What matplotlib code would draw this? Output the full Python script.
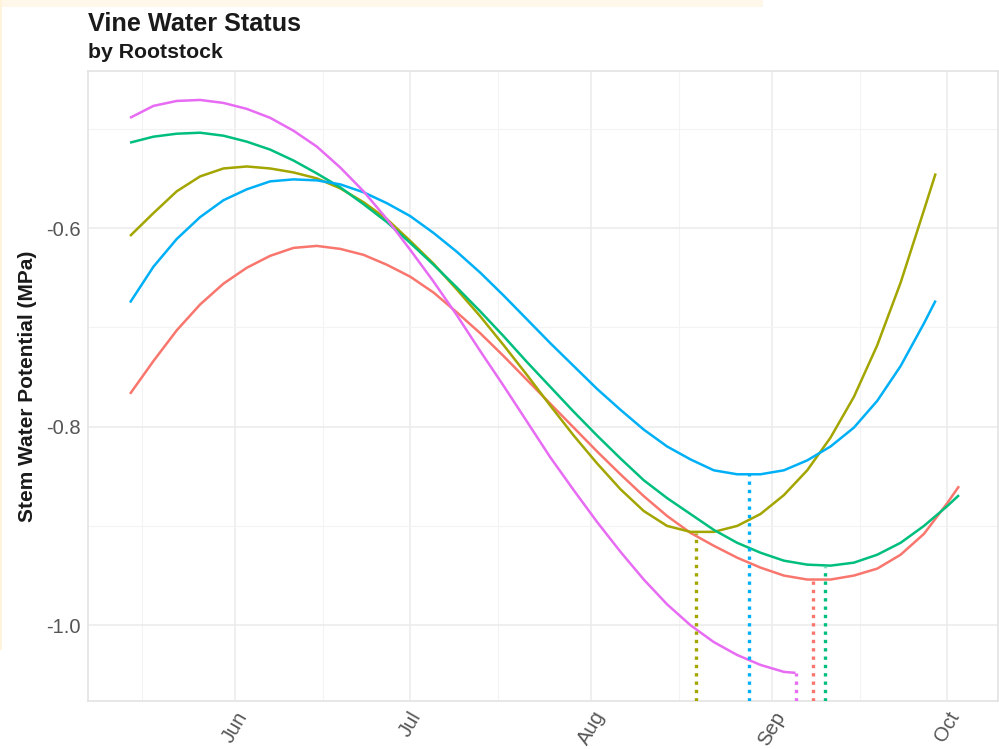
import matplotlib
matplotlib.use("Agg")
import matplotlib.pyplot as plt
import matplotlib.dates as mdates
import pandas as pd
from matplotlib.patches import Rectangle

plt.rcParams["font.family"] = ["Liberation Sans", "DejaVu Sans"]

# 4-day sample dates along the smoothed curves, plus each curve's last date
grid = pd.date_range("2019-05-14", periods=36, freq="4D")
dates_red = list(grid) + [pd.Timestamp("2019-10-03")]
dates_olive = list(grid[:35]) + [pd.Timestamp("2019-09-29")]
dates_green = list(grid) + [pd.Timestamp("2019-10-03")]
dates_blue = list(grid[:35]) + [pd.Timestamp("2019-09-29")]
dates_purple = list(grid[:29]) + [pd.Timestamp("2019-09-05")]

# smoothed stem water potential (MPa) per rootstock
swp_red = [-0.767, -0.734, -0.703, -0.677, -0.656, -0.640, -0.628, -0.620, -0.618, -0.621,
           -0.627, -0.637, -0.649, -0.665, -0.685, -0.706, -0.729, -0.753, -0.777, -0.801,
           -0.825, -0.848, -0.870, -0.890, -0.907, -0.920, -0.932, -0.942, -0.950, -0.954,
           -0.954, -0.950, -0.943, -0.929, -0.908, -0.877, -0.860]
swp_olive = [-0.608, -0.585, -0.563, -0.548, -0.540, -0.538, -0.540, -0.544, -0.550, -0.560,
             -0.574, -0.591, -0.613, -0.636, -0.662, -0.689, -0.718, -0.748, -0.779, -0.809,
             -0.837, -0.863, -0.885, -0.900, -0.906, -0.906, -0.900, -0.888, -0.869, -0.844,
             -0.811, -0.770, -0.718, -0.655, -0.582, -0.545]
swp_green = [-0.514, -0.508, -0.505, -0.504, -0.507, -0.513, -0.521, -0.532, -0.545, -0.559,
             -0.576, -0.594, -0.615, -0.637, -0.660, -0.684, -0.709, -0.735, -0.760, -0.785,
             -0.809, -0.832, -0.854, -0.872, -0.888, -0.904, -0.917, -0.927, -0.935, -0.939,
             -0.940, -0.937, -0.929, -0.917, -0.900, -0.880, -0.869]
swp_blue = [-0.675, -0.639, -0.611, -0.589, -0.572, -0.561, -0.553, -0.551, -0.552, -0.556,
            -0.564, -0.575, -0.588, -0.605, -0.624, -0.645, -0.668, -0.692, -0.716, -0.739,
            -0.762, -0.783, -0.803, -0.820, -0.833, -0.844, -0.848, -0.848, -0.844, -0.834,
            -0.820, -0.801, -0.774, -0.739, -0.696, -0.673]
swp_purple = [-0.489, -0.477, -0.472, -0.471, -0.474, -0.480, -0.489, -0.502, -0.518, -0.539,
              -0.563, -0.591, -0.622, -0.654, -0.688, -0.724, -0.759, -0.795, -0.831, -0.864,
              -0.896, -0.926, -0.954, -0.979, -1.000, -1.017, -1.030, -1.040, -1.047, -1.048]

# date and value of each curve's lowest point
min_dates = ["2019-09-08", "2019-08-19", "2019-09-10", "2019-08-28", "2019-09-05"]
min_values = [-0.955, -0.907, -0.941, -0.848, -1.048]

colors = ["#F8766D", "#A3A500", "#00BF7D", "#00B0F6", "#E76BF3"]
series = [(dates_red, swp_red), (dates_olive, swp_olive), (dates_green, swp_green),
          (dates_blue, swp_blue), (dates_purple, swp_purple)]

fig = plt.figure(figsize=(9.99, 7.49), dpi=100)
ax = fig.add_axes([0.0881, 0.064, 0.911, 0.841])

jun1 = mdates.date2num(pd.Timestamp("2019-06-01"))
ax.set_xlim(jun1 - 25.2, jun1 + 130.7)
ax.set_ylim(-1.0764, -0.442)

for (d, v), c in zip(series, colors):
    ax.plot(d, v, color=c, lw=1.8, solid_capstyle="butt", solid_joinstyle="round", zorder=3)

for d, v, c in zip(min_dates, min_values, colors):
    ax.vlines(pd.Timestamp(d), -1.0764, v, color=c, lw=2.4,
              linestyles=(0, (1, 1.5)), zorder=4)

# ggplot-style minimal theme
ax.xaxis.set_major_locator(mdates.MonthLocator(bymonth=[6, 7, 8, 9, 10]))
ax.xaxis.set_major_formatter(mdates.DateFormatter("%b"))
ax.xaxis.set_minor_locator(mdates.DayLocator(bymonthday=16))
ax.set_yticks([-1.0, -0.8, -0.6])
ax.set_yticklabels(["-1.0", "-0.8", "-0.6"])
ax.set_yticks([-0.9, -0.7, -0.5], minor=True)

ax.grid(which="major", color="#EBEBEB", lw=1.1)
ax.grid(which="minor", color="#F3F3F3", lw=0.8)
ax.set_axisbelow(True)
for s in ax.spines.values():
    s.set_color("#E3E3E3")
    s.set_linewidth(1.2)

ax.tick_params(which="both", length=0)
ax.tick_params(axis="y", labelsize=14.5, labelcolor="#555555", pad=5)
ax.tick_params(axis="x", labelsize=14.5, labelcolor="#555555", pad=5)
for lab in ax.get_xticklabels():
    lab.set_rotation(60)
    lab.set_ha("center")
    lab.set_va("top")

ax.set_ylabel("Stem Water Potential (MPa)", fontsize=15, fontweight="bold", color="#1A1A1A")
ax.yaxis.set_label_coords(-0.056, 0.5)

fig.text(0.0881, 0.9586, "Vine Water Status", fontsize=18.2, fontweight="bold",
         color="#1A1A1A", va="baseline")
fig.text(0.0881, 0.9226, "by Rootstock", fontsize=15.3, fontweight="bold",
         color="#1A1A1A", va="baseline")

# cream margin along the top and left edges
fig.patches.append(Rectangle((0, 1 - 7 / 749), 763 / 999, 7 / 749, transform=fig.transFigure,
                             color="#FFF8EA", lw=0, zorder=0))
fig.patches.append(Rectangle((0, 1 - 650 / 749), 2 / 999, 650 / 749, transform=fig.transFigure,
                             color="#FFF3DC", lw=0, zorder=0))

fig.savefig("out.png", dpi=100)
